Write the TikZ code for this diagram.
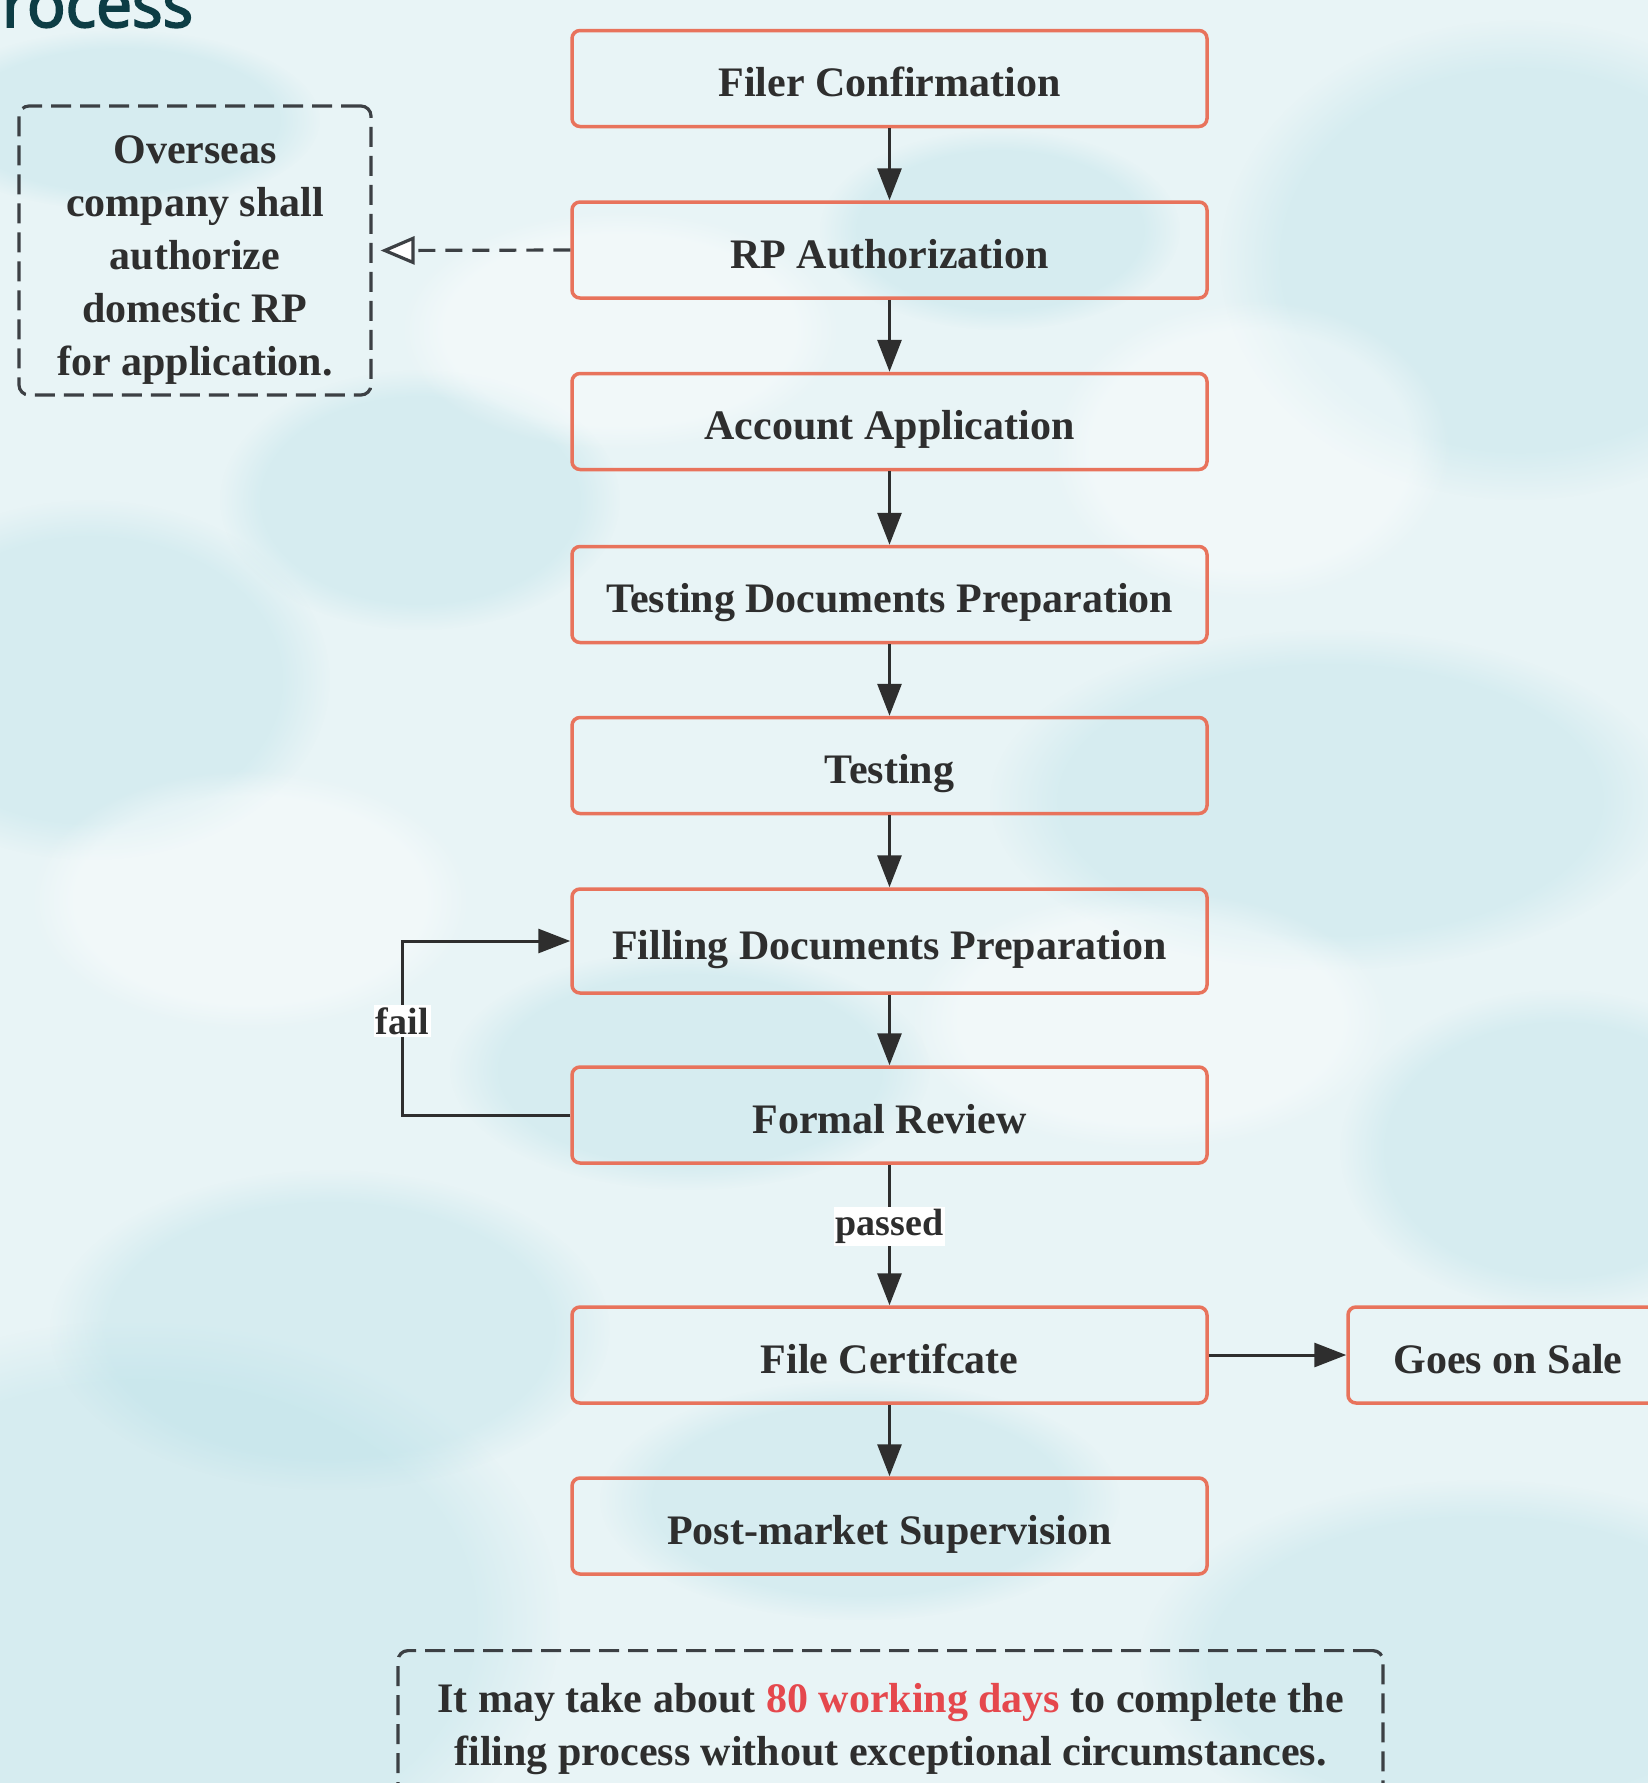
\documentclass[tikz,border=0pt]{standalone}
\usepackage{fontspec}
\setmainfont{Liberation Serif}
\newfontfamily\titlefont[FakeBold=3]{Open Sans}
\usetikzlibrary{arrows.meta,fadings}
\definecolor{bg}{HTML}{E8F4F6}
\definecolor{blob}{HTML}{B3DEE6}
\definecolor{coral}{HTML}{E8735C}
\definecolor{ink}{HTML}{2E2E2E}
\definecolor{dashc}{HTML}{3C4044}
\definecolor{titlec}{HTML}{0D3D45}
\definecolor{redtxt}{HTML}{E5484D}
\begin{document}
\begin{tikzpicture}[x=1pt,y=-1pt,
  stepbox/.style={draw=coral, line width=3.5pt, rounded corners=8pt, minimum width=635pt, minimum height=96pt, inner sep=0pt, font=\fontsize{42}{50}\selectfont\bfseries, text=ink, text height=36pt, text depth=0pt},
  flow/.style={draw=ink, line width=3pt, -{Triangle[length=32pt,width=24pt]}},
  lab/.style={fill=white, inner sep=2pt, font=\fontsize{38}{44}\selectfont\bfseries, text=ink},
  dashbox/.style={draw=dashc, line width=3.2pt, dash pattern=on 20pt off 9pt, rounded corners=10pt},
  notetext/.style={align=center, inner sep=0pt, font=\fontsize{42}{53}\selectfont\bfseries, text=ink},
  spot/.style={fill=blob, path fading=circle with fuzzy edge 20 percent, fill opacity=0.32},
  glow/.style={fill=white, path fading=circle with fuzzy edge 20 percent, fill opacity=0.4},
]
\useasboundingbox (0,0) rectangle (1648,1783);
\clip (0,0) rectangle (1648,1783);
% background
\fill[bg] (0,0) rectangle (1648,1783);
\path[spot] (140,1620) ellipse [x radius=420pt, y radius=300pt];
\path[spot] (330,1330) ellipse [x radius=280pt, y radius=160pt];
\path[spot] (1520,260) ellipse [x radius=300pt, y radius=240pt];
\path[spot] (1330,800) ellipse [x radius=340pt, y radius=170pt];
\path[spot] (90,680) ellipse [x radius=240pt, y radius=180pt];
\path[spot] (1480,1660) ellipse [x radius=340pt, y radius=180pt];
\path[spot] (690,1070) ellipse [x radius=240pt, y radius=120pt];
\path[spot] (1000,230) ellipse [x radius=180pt, y radius=100pt];
\path[spot] (420,500) ellipse [x radius=200pt, y radius=130pt];
\path[spot] (1560,1150) ellipse [x radius=220pt, y radius=160pt];
\path[spot] (120,120) ellipse [x radius=200pt, y radius=90pt];
\path[spot] (860,1500) ellipse [x radius=260pt, y radius=120pt];
\path[glow] (1150,1020) ellipse [x radius=240pt, y radius=130pt];
\path[glow] (620,330) ellipse [x radius=220pt, y radius=120pt];
\path[glow] (250,900) ellipse [x radius=220pt, y radius=130pt];
\path[glow] (1250,450) ellipse [x radius=200pt, y radius=150pt];

% title fragment
\node[anchor=base west, inner sep=0pt, font=\titlefont\fontsize{64}{76}\selectfont, text=titlec] (title) at (2,27) {rocess};

% main column
\node[stepbox] (filer) at (889.5,78.5) {Filer Confirmation};
\node[stepbox] (rp) at (889.5,250) {RP Authorization};
\node[stepbox] (acct) at (889.5,421.5) {Account Application};
\node[stepbox] (tdoc) at (889.5,594.5) {Testing Documents Preparation};
\node[stepbox] (testing) at (889.5,765.5) {Testing};
\node[stepbox, minimum height=104pt] (filling) at (889.5,941) {Filling Documents Preparation};
\node[stepbox] (formal) at (889.5,1115) {Formal Review};
\node[stepbox] (cert) at (889.5,1355) {File Certifcate};
\node[stepbox] (post) at (889.5,1526) {Post-market Supervision};
\node[stepbox, minimum width=320pt] (sale) at (1508,1355) {Goes on Sale};

% side note
\node[dashbox, minimum width=352pt, minimum height=289pt, inner sep=0pt] (over) at (195,250.5) {};
\node[notetext] (overtext) at (195,260) {Overseas\\company shall\\authorize\\domestic RP\\for application.};

% bottom note
\node[dashbox, anchor=north, minimum width=985pt, minimum height=160pt, inner sep=0pt] (note) at (890.5,1649) {};
\node[notetext] (notetext) at (890.5,1729) {It may take about \textcolor{redtxt}{80 working days} to complete the\\filing process without exceptional circumstances.};

% connectors
\draw[flow] (filer) -- (rp);
\draw[flow] (rp) -- (acct);
\draw[flow] (acct) -- (tdoc);
\draw[flow] (tdoc) -- (testing);
\draw[flow] (testing) -- (filling);
\draw[flow] (filling) -- (formal);
\draw[flow] (formal) -- node[lab, pos=0.44] {passed} (cert);
\draw[flow] (cert) -- (post);
\draw[flow] (cert) -- (sale);
\draw[flow] (formal.west) -- ++(-168,0) |- node[lab, pos=0.27] {fail} (filling.west);
\draw[draw=dashc, line width=3.2pt, dash pattern=on 17pt off 10pt, -{Triangle[open, fill=white, length=34pt, width=28pt]}] (rp.west) -- ([xshift=8pt]over.east);
\end{tikzpicture}
\end{document}
